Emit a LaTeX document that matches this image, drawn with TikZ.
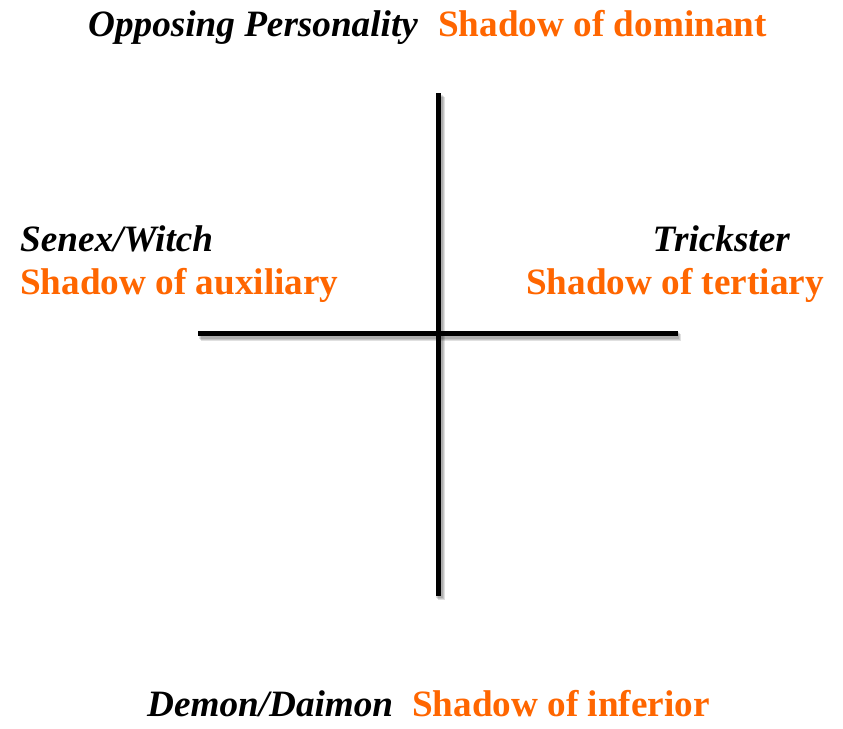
\documentclass[tikz,border=0pt]{standalone}
\usepackage{fontspec}
\setmainfont{Liberation Serif}
\usepackage{xcolor}
\usetikzlibrary{calc}
\definecolor{shadoworange}{RGB}{255,102,0}

\begin{document}
\begin{tikzpicture}[x=1pt, y=-1pt,
    archetype/.style={font=\fontsize{37.2}{42}\selectfont\bfseries\itshape, text=black, inner sep=0pt},
    shadowtext/.style={font=\fontsize{37.2}{42}\selectfont\bfseries, text=shadoworange, inner sep=0pt},
    axis/.style={line width=5pt, black},
    axisshadow/.style={line width=7pt, black, opacity=0.12}]
    \useasboundingbox (0,0) rectangle (843,728);

    % axes with soft shadow
    \coordinate (top) at (438,93);
    \coordinate (bottom) at (438,596);
    \coordinate (left) at (198,333);
    \coordinate (right) at (678,333);
    \foreach \d in {1,2,3} {
        \draw[axisshadow] ($(top)+(\d,\d+1)$) -- ($(bottom)+(\d,\d+1)$);
        \draw[axisshadow] ($(left)+(\d,\d+1)$) -- ($(right)+(\d,\d+1)$);
    }
    \draw[axis] (top) -- (bottom);
    \draw[axis] (left) -- (right);

    % labels
    \node[archetype, anchor=base west] (opposing) at (88,36) {Opposing Personality};
    \node[shadowtext, anchor=base west] (dominant) at (438,36) {Shadow of dominant};
    \node[archetype, anchor=base west] (senex) at (20,251) {Senex/Witch};
    \node[shadowtext, anchor=base west] (auxiliary) at (20,294) {Shadow of auxiliary};
    \node[archetype, anchor=base east] (trickster) at (790,251) {Trickster};
    \node[shadowtext, anchor=base east] (tertiary) at (824,294) {Shadow of tertiary};
    \node[archetype, anchor=base west] (demon) at (147,716) {Demon/Daimon};
    \node[shadowtext, anchor=base west] (inferior) at (412,716) {Shadow of inferior};
\end{tikzpicture}
\end{document}
